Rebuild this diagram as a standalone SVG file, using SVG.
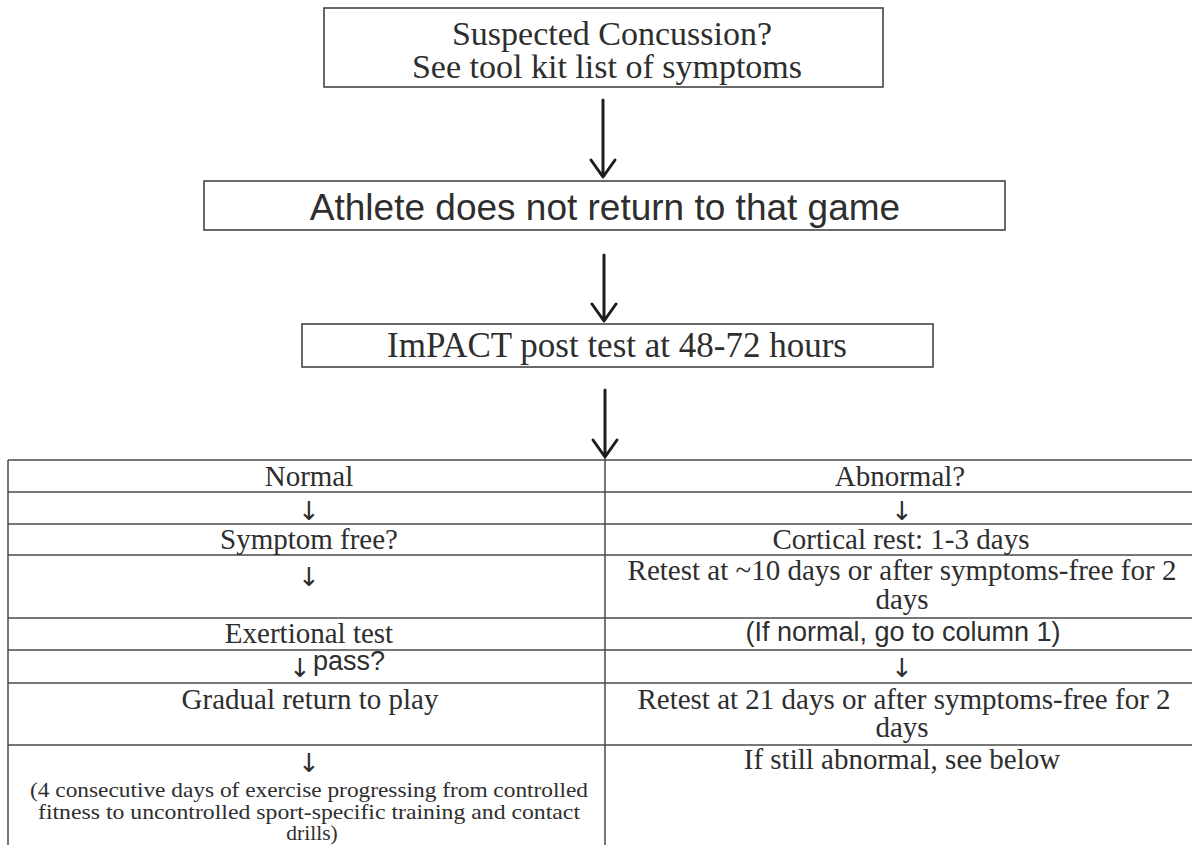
<svg xmlns="http://www.w3.org/2000/svg" width="1192" height="845" viewBox="0 0 1192 845">
<defs>
<style>
.box{fill:#fff;stroke:#444;stroke-width:1.6}
.grid{stroke:#4a4a4a;stroke-width:1.5;fill:none}
.ser{font-family:"Liberation Serif","Times New Roman",serif;fill:#2e2e2e}
.san{font-family:"Liberation Sans",Arial,sans-serif;fill:#2e2e2e}
.dn{font-family:"DejaVu Sans",sans-serif;font-size:26px;text-anchor:middle;fill:#2e2e2e}
.t{font-size:29px;text-anchor:middle}
.s{font-size:21.5px;text-anchor:middle}
.arr{stroke:#1e1e1e;stroke-width:3;fill:none;stroke-linecap:round;stroke-linejoin:round}
</style>
</defs>
<rect width="1192" height="845" fill="#fff"/>

<g id="node-suspected">
<rect class="box" x="324" y="8" width="559" height="79"/>
<text class="ser" x="612" y="45" font-size="34" text-anchor="middle">Suspected Concussion?</text>
<text class="ser" x="607" y="78" font-size="34" text-anchor="middle">See tool kit list of symptoms</text>
</g>

<g id="node-athlete">
<rect class="box" x="204" y="181" width="801" height="49"/>
<text class="san" x="605" y="220" font-size="37" text-anchor="middle">Athlete does not return to that game</text>
</g>

<g id="node-impact">
<rect class="box" x="302" y="324" width="631" height="43"/>
<text class="ser" x="617" y="357" font-size="35" text-anchor="middle">ImPACT post test at 48-72 hours</text>
</g>

<g id="connectors">
<path class="arr" d="M603 100 V176 M591 160 L603 177 L615 160"/>
<path class="arr" d="M604 255 V320 M592 304 L604 321 L616 304"/>
<path class="arr" d="M605 390 V456 M593 440 L605 457 L617 440"/>
</g>

<g id="table">
<g class="grid">
<line x1="8" y1="460" x2="1192" y2="460"/>
<line x1="8" y1="492" x2="1192" y2="492"/>
<line x1="8" y1="524" x2="1192" y2="524"/>
<line x1="8" y1="555" x2="1192" y2="555"/>
<line x1="8" y1="618" x2="1192" y2="618"/>
<line x1="8" y1="650" x2="1192" y2="650"/>
<line x1="8" y1="683" x2="1192" y2="683"/>
<line x1="8" y1="745" x2="1192" y2="745"/>
<line x1="8" y1="460" x2="8" y2="845"/>
<line x1="605" y1="458" x2="605" y2="845"/>
</g>
<g id="col-normal">
<text class="ser t" x="309" y="486">Normal</text>
<text class="dn" x="309" y="520">↓</text>
<text class="ser t" x="309" y="549">Symptom free?</text>
<text class="dn" x="309" y="586">↓</text>
<text class="ser t" x="309" y="643">Exertional test</text>
<text class="dn" x="300" y="677">↓</text>
<text class="san" x="313" y="670" font-size="27">pass?</text>
<text class="ser t" x="310" y="709">Gradual return to play</text>
<text class="dn" x="309" y="772" font-size="21">↓</text>
<text class="ser s" x="309" y="797" textLength="558" lengthAdjust="spacingAndGlyphs">(4 consecutive days of exercise progressing from controlled</text>
<text class="ser s" x="309" y="818.5" textLength="542" lengthAdjust="spacingAndGlyphs">fitness to uncontrolled sport-specific training and contact</text>
<text class="ser s" x="312" y="840">drills)</text>
</g>
<g id="col-abnormal">
<text class="ser t" x="900" y="486">Abnormal?</text>
<text class="dn" x="902" y="520">↓</text>
<text class="ser t" x="901" y="549">Cortical rest: 1-3 days</text>
<text class="ser t" x="902" y="580">Retest at ~10 days or after symptoms-free for 2</text>
<text class="ser t" x="902" y="609">days</text>
<text class="san" x="903" y="641" font-size="27" text-anchor="middle">(If normal, go to column 1)</text>
<text class="dn" x="902" y="677">↓</text>
<text class="ser t" x="904" y="709">Retest at 21 days or after symptoms-free for 2</text>
<text class="ser t" x="902" y="737">days</text>
<text class="ser t" x="902" y="769">If still abnormal, see below</text>
</g>
</g>
</svg>
